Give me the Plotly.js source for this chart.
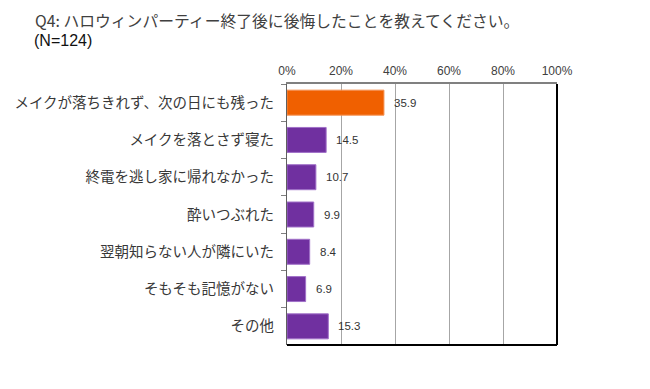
<!DOCTYPE html>
<html>
<head>
<meta charset="utf-8">
<script src="https://cdn.plot.ly/plotly-3.0.1.min.js"></script>
<style>html,body{margin:0;padding:0;background:#fff;}#chart{width:650px;height:389px;}</style>
</head>
<body>
<div id="chart"></div>
<script>
const categories = [
  'メイクが落ちきれず、次の日にも残った',
  'メイクを落とさず寝た',
  '終電を逃し家に帰れなかった',
  '酔いつぶれた',
  '翌朝知らない人が隣にいた',
  'そもそも記憶がない',
  'その他'
];
const values = [35.9, 14.5, 10.7, 9.9, 8.4, 6.9, 15.3];
const barColors = ['#F06000', '#7030A0', '#7030A0', '#7030A0', '#7030A0', '#7030A0', '#7030A0'];
const edgeColors = ['#F49050', '#A070C8', '#A070C8', '#A070C8', '#A070C8', '#A070C8', '#A070C8'];
const titleText = 'Q4: ハロウィンパーティー終了後に後悔したことを教えてください。';
const subtitleText = '(N=124)';

const jp = '"Noto Sans CJK JP", sans-serif';
const lat = '"Liberation Sans", Arial, sans-serif';

const trace = {
  type: 'bar',
  orientation: 'h',
  x: values,
  y: categories,
  marker: {color: barColors, line: {color: edgeColors, width: 1}},
  hoverinfo: 'none'
};

const annotations = values.map((v, i) => ({
  x: v, y: categories[i], xref: 'x', yref: 'y',
  text: v.toFixed(1), showarrow: false, xanchor: 'left', xshift: 8,
  font: {family: lat, size: 11.5, color: '#333333'}
}));
annotations.push({
  xref: 'paper', yref: 'paper',
  x: (32 - 287) / 270, y: (345 - 41) / 261,
  xanchor: 'left', yanchor: 'middle',
  text: subtitleText, showarrow: false,
  font: {family: lat, size: 16, color: '#111111'}
});

const layout = {
  width: 650, height: 389,
  margin: {l: 287, r: 93, t: 84, b: 44},
  paper_bgcolor: '#ffffff', plot_bgcolor: '#ffffff',
  showlegend: false,
  bargap: 0.33,
  title: {
    text: titleText, xref: 'container', yref: 'container',
    x: 35 / 650, xanchor: 'left',
    y: 1 - 21 / 389, yanchor: 'middle',
    font: {family: jp, size: 15.8, color: '#404040'}
  },
  xaxis: {
    side: 'top', range: [0, 100], dtick: 20, ticksuffix: '%',
    showgrid: true, gridcolor: '#a6a6a6', gridwidth: 1,
    zeroline: false, showline: true, linecolor: '#808080', linewidth: 2,
    ticks: '', ticklabelstandoff: 2,
    tickfont: {family: lat, size: 12, color: '#404040'},
    fixedrange: true
  },
  yaxis: {
    type: 'category', autorange: 'reversed',
    showline: true, linecolor: '#606060', linewidth: 1,
    ticks: 'outside', tickson: 'boundaries', ticklen: 5, tickcolor: '#808080',
    ticklabelstandoff: 9,
    tickfont: {family: jp, size: 14.5, color: '#383838'},
    showgrid: false, zeroline: false, fixedrange: true
  },
  shapes: [
    {type: 'line', xref: 'paper', yref: 'paper', x0: 0, x1: 1, y0: 0, y1: 0, line: {color: '#000000', width: 2}},
    {type: 'line', xref: 'paper', yref: 'paper', x0: 1, x1: 1, y0: 0, y1: 1, line: {color: '#000000', width: 2}}
  ],
  annotations: annotations
};

Plotly.newPlot('chart', [trace], layout, {displayModeBar: false, staticPlot: true});
</script>
</body>
</html>
